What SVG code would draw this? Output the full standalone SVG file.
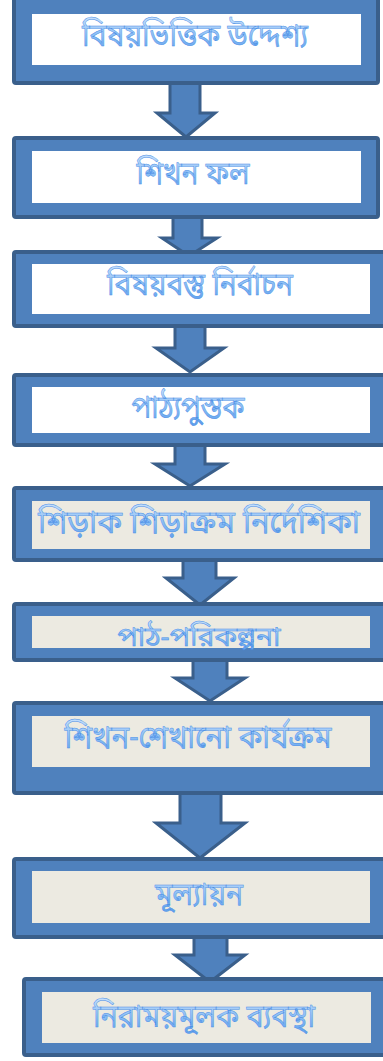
<svg xmlns="http://www.w3.org/2000/svg" width="383" height="1061" viewBox="0 0 383 1061">
<defs>
<linearGradient id="tg" x1="0" y1="0" x2="0" y2="1">
<stop offset="0" stop-color="#c6e0fc"/>
<stop offset="0.5" stop-color="#86bbf4"/>
<stop offset="1" stop-color="#4f93e8"/>
</linearGradient>
<style>
.box{fill:#4f81bd;stroke:#3a5f8b;stroke-width:4}
.inw{fill:#ffffff}
.inb{fill:#eceae1}
.arr{fill:#4f81bd;stroke:#3a5f8b;stroke-width:3;stroke-linejoin:miter}
.t{font-family:"Noto Sans Bengali","Noto Sans","Noto Sans CJK SC",sans-serif;font-size:32px;fill:url(#tg);stroke:#4a8ee6;stroke-width:0.5;text-anchor:middle}
.s{font-size:27px}
</style>
</defs>
<rect width="383" height="1061" fill="#ffffff"/>
<g id="connectors">
<polygon class="arr" points="170,80 200,80 200,113 215,113 186,137 157,113 170,113"/>
<polygon class="arr" points="173,215 202,215 202,238 217,238 189,256 162,238 173,238"/>
<polygon class="arr" points="175,324 205,324 205,348 224,348 190,372 156,348 175,348"/>
<polygon class="arr" points="175,443 205,443 205,464 225,464 190,486 155,464 175,464"/>
<polygon class="arr" points="183,558 216,558 216,578 234,578 200,605 166,578 183,578"/>
<polygon class="arr" points="193,658 227,658 227,678 245,678 210,701 175,678 193,678"/>
<polygon class="arr" points="180,791 221,791 221,823 245,823 200,858 156,823 180,823"/>
<polygon class="arr" points="194,935 227,935 227,955 245,955 210,982 175,955 194,955"/>
</g>
<g id="n1">
<rect class="box" x="14" y="-2" width="364" height="85" rx="2"/>
<rect class="inw" x="32" y="14" width="329" height="51"/>
<text class="t" x="195" y="46" textLength="226" lengthAdjust="spacingAndGlyphs">বিষয়ভিত্তিক উদ্দেশ্য</text>
</g>
<g id="n2">
<rect class="box" x="14" y="138" width="364" height="79" rx="2"/>
<rect class="inw" x="32" y="151" width="329" height="52"/>
<text class="t" x="193" y="184" textLength="113" lengthAdjust="spacingAndGlyphs">শিখন ফল</text>
</g>
<g id="n3">
<rect class="box" x="14" y="252" width="374" height="74" rx="2"/>
<rect class="inw" x="32" y="264" width="338" height="50"/>
<text class="t" x="200" y="295" textLength="186" lengthAdjust="spacingAndGlyphs">বিষয়বস্তু নির্বাচন</text>
</g>
<g id="n4">
<rect class="box" x="14" y="375" width="374" height="70" rx="2"/>
<rect class="inw" x="32" y="387" width="338" height="46"/>
<text class="t" x="188" y="418" textLength="113" lengthAdjust="spacingAndGlyphs">পাঠ্যপুস্তক</text>
</g>
<g id="n5">
<rect class="box" x="14" y="488" width="374" height="72" rx="2"/>
<rect class="inb" x="32" y="501" width="338" height="48"/>
<text class="t" x="199" y="533" textLength="322" lengthAdjust="spacingAndGlyphs">শিড়াক শিড়াক্রম নির্দেশিকা</text>
</g>
<g id="n6">
<rect class="box" x="14" y="604" width="374" height="56" rx="2"/>
<rect class="inb" x="32" y="616" width="338" height="32"/>
<text class="t s" x="199" y="646" textLength="163" lengthAdjust="spacingAndGlyphs">পাঠ-পরিকল্পনা</text>
</g>
<g id="n7">
<rect class="box" x="14" y="703" width="374" height="90" rx="2"/>
<rect class="inb" x="32" y="716" width="338" height="51"/>
<text class="t" x="198" y="748" textLength="267" lengthAdjust="spacingAndGlyphs">শিখন-শেখানো কার্যক্রম</text>
</g>
<g id="n8">
<rect class="box" x="14" y="859" width="374" height="78" rx="2"/>
<rect class="inb" x="32" y="871" width="338" height="52"/>
<text class="t" x="199" y="905" textLength="88" lengthAdjust="spacingAndGlyphs">মূল্যায়ন</text>
</g>
<g id="n9">
<rect class="box" x="24" y="979" width="364" height="76" rx="2"/>
<rect class="inb" x="42" y="992" width="329" height="51"/>
<text class="t" x="204" y="1027" textLength="222" lengthAdjust="spacingAndGlyphs">নিরাময়মূলক ব্যবস্থা</text>
</g>
</svg>
